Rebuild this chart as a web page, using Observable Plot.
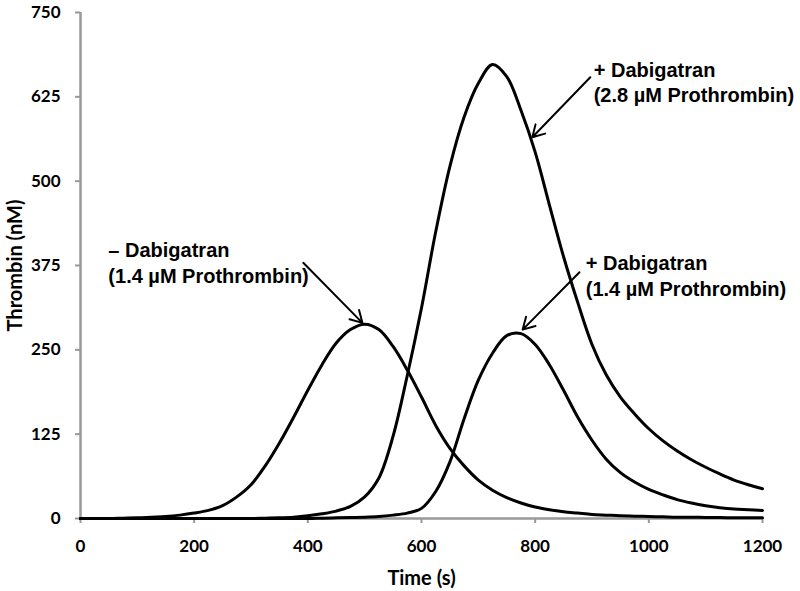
<!DOCTYPE html>
<html><head><meta charset="utf-8">
<script src="https://cdn.jsdelivr.net/npm/d3@7"></script>
<script src="https://cdn.jsdelivr.net/npm/@observablehq/plot@0.6"></script>
<style>
body{margin:0;background:#fff;}
#chart svg{display:block;}
g[aria-label="y-axis tick label"], g[aria-label="x-axis tick label"]{font-weight:bold;font-size:17px;}
g[aria-label="y-axis label"], g[aria-label="x-axis label"]{font-weight:bold;font-size:20px;}
</style></head><body><div id="chart"></div>
<script>
// Time (s)
const time = [0,25,50,75,100,125,150,175,200,225,250,275,300,325,350,375,400,425,450,475,500,525,550,575,600,625,650,675,700,725,750,775,800,825,850,875,900,925,950,975,1000,1025,1050,1075,1100,1125,1150,1175,1200];
// – Dabigatran (1.4 µM Prothrombin)
const minusDabi14 = [0,0,0,0.5,1,2,3,5,8,12,19,32,50,78,112,150,190,228,260,280,288,280,255,220,180,138,104,78,57,42,31,23,17,13,10,8,6,5,4,3.5,3,2.5,2,2,1.5,1.5,1,1,1];
// + Dabigatran (2.8 µM Prothrombin)
const plusDabi28 = [0,0,0,0,0,0,0,0,0,0,0,0,0,0.5,1,2,4,7,11,18,32,60,122,212,312,425,522,595,645,673,655,605,543,465,388,320,258,213,180,155,133,115,100,87,76,66,57,50,44];
// + Dabigatran (1.4 µM Prothrombin)
const plusDabi14 = [0,0,0,0,0,0,0,0,0,0,0,0,0,0,0,0,0,0.5,1,1.5,2,3,5,8,15,40,84,148,205,245,271,274,258,228,190,150,116,88,68,54,43,35,28,23,19,16,14,13,12];

const xTicks = [0,200,400,600,800,1000,1200];
const yTicks = [0,125,250,375,500,625,750];

// Annotations (data units)
const noteText = ["– Dabigatran\n(1.4 µM Prothrombin)", "+ Dabigatran\n(2.8 µM Prothrombin)", "+ Dabigatran\n(1.4 µM Prothrombin)"];
const noteX = [49, 903, 889];
const noteY = [414, 682, 395];
const arrowX1 = [392, 897, 878];
const arrowY1 = [379, 654, 365];
const arrowX2 = [496, 795, 778];
const arrowY2 = [290, 565, 280];

const series = [
  {name:"minus14", values:minusDabi14},
  {name:"plus28", values:plusDabi28},
  {name:"plus14", values:plusDabi14}
];
const rows = series.flatMap(s => time.map((t,i) => ({t, v:s.values[i], s:s.name})));
const notes = noteText.map((text,i) => ({text, x:noteX[i], y:noteY[i]}));
const arrows = arrowX1.map((x1,i) => ({x1, y1:arrowY1[i], x2:arrowX2[i], y2:arrowY2[i]}));

const chart = Plot.plot({
  width: 800, height: 591,
  marginLeft: 80, marginRight: 38, marginTop: 12, marginBottom: 73,
  x: {domain:[0,1200]},
  y: {domain:[0,750]},
  style: {fontFamily:"Lato, sans-serif", background:"#fff", color:"#000"},
  marks: [
    Plot.axisY({ticks:yTicks, tickSize:5, tickPadding:15, stroke:"#999", strokeWidth:2, fill:"#000", fontSize:17, fontWeight:"bold", tickFormat:d=>String(d), label:"Thrombin (nM)", labelArrow:"none", labelAnchor:"center", labelOffset:73}),
    Plot.axisX({ticks:xTicks, tickSize:5, tickPadding:16, stroke:"#999", strokeWidth:2, fill:"#000", fontSize:17, fontWeight:"bold", tickFormat:d=>String(d), label:"Time (s)", labelArrow:"none", labelAnchor:"center", labelOffset:66}),
    Plot.ruleX([0], {stroke:"#999", strokeWidth:2.5}),
    Plot.ruleY([0], {stroke:"#999", strokeWidth:2.5}),
    Plot.line(rows, {x:"t", y:"v", z:"s", stroke:"#000", strokeWidth:3, curve:"catmull-rom"}),
    Plot.arrow(arrows, {x1:"x1", y1:"y1", x2:"x2", y2:"y2", stroke:"#000", strokeWidth:2, headLength:10}),
    Plot.text(notes, {x:"x", y:"y", text:"text", textAnchor:"start", lineAnchor:"top", lineHeight:1.28, fontSize:20, fontWeight:"bold", fontFamily:"Liberation Sans, Arial, sans-serif", fill:"#000"})
  ]
});
document.getElementById("chart").appendChild(chart);
</script>
</body></html>
